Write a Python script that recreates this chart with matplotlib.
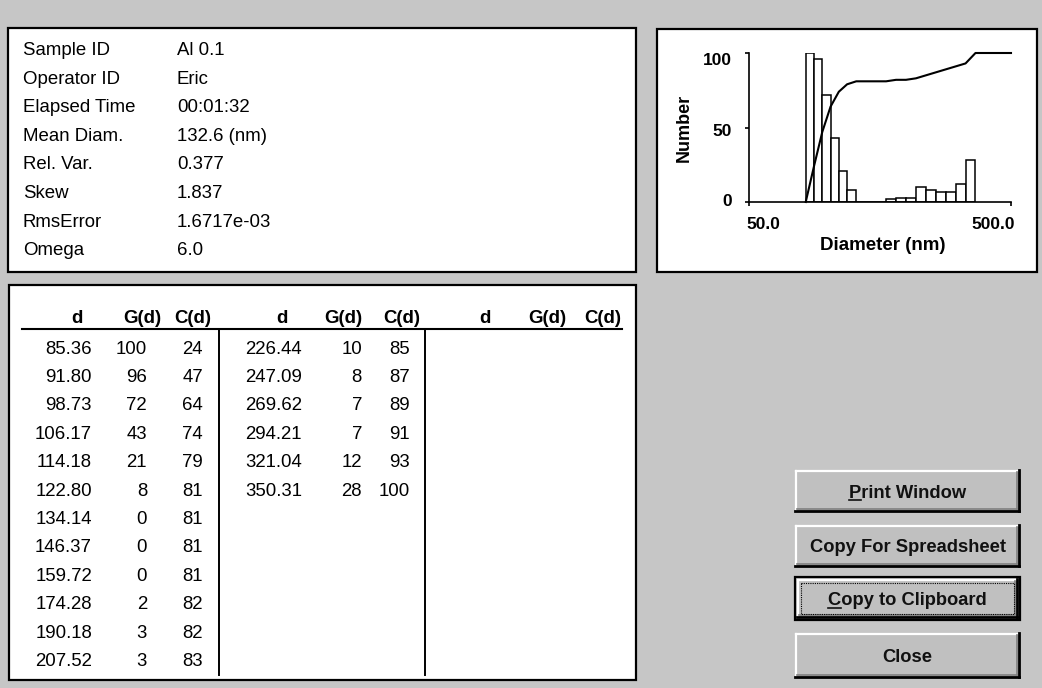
import matplotlib
matplotlib.use("Agg")
import matplotlib.pyplot as plt
import numpy as np
from matplotlib.patches import Rectangle
from matplotlib.lines import Line2D
from matplotlib.ticker import NullLocator
from matplotlib.transforms import ScaledTranslation

plt.rcParams['font.family'] = ['Liberation Sans', 'DejaVu Sans']

# ---- run summary ----
info_labels = ["Sample ID", "Operator ID", "Elapsed Time", "Mean Diam.",
               "Rel. Var.", "Skew", "RmsError", "Omega"]
info_values = ["Al 0.1", "Eric", "00:01:32", "132.6 (nm)",
               "0.377", "1.837", "1.6717e-03", "6.0"]

# ---- size distribution: diameter (nm), G(d), C(d) ----
diam = [85.36, 91.80, 98.73, 106.17, 114.18, 122.80, 134.14, 146.37, 159.72,
        174.28, 190.18, 207.52, 226.44, 247.09, 269.62, 294.21, 321.04, 350.31]
g_d = [100, 96, 72, 43, 21, 8, 0, 0, 0, 2, 3, 3, 10, 8, 7, 7, 12, 28]
c_d = [24, 47, 64, 74, 79, 81, 81, 81, 81, 82, 82, 83, 85, 87, 89, 91, 93, 100]

col_headers = ["d", "G(d)", "C(d)"]
x_ticks = [50, 500]
x_tick_labels = ["50.0", "500.0"]
y_ticks = [0, 50, 100]
y_tick_labels = ["0", "50", "100"]
button_labels = ["Print Window", "Copy For Spreadsheet", "Copy to Clipboard", "Close"]

W, H = 1042, 688
BG = "#c6c6c6"
fig = plt.figure(figsize=(W / 100, H / 100), dpi=100, facecolor=BG)

# pixel-space canvas for the dialog frame
bg = fig.add_axes([0, 0, 1, 1])
bg.set_xlim(0, W)
bg.set_ylim(H, 0)
bg.axis("off")

def panel(x0, y0, x1, y1):
    bg.add_patch(Rectangle((x0, y0), x1 - x0, y1 - y0, facecolor="white",
                           edgecolor="black", linewidth=1.6, zorder=1))

panel(8, 28, 636, 272)      # summary
panel(657, 29, 1037, 272)   # plot
panel(9, 285, 636, 680)     # table

FS = 13.4
# ---- summary text ----
for i, (lab, val) in enumerate(zip(info_labels, info_values)):
    yb = 55 + 28.6 * i
    bg.text(23, yb, lab, fontsize=FS, va="baseline", ha="left", zorder=3)
    bg.text(177, yb, val, fontsize=FS, va="baseline", ha="left", zorder=3)

# ---- table ----
header_x = [[77, 142, 193], [282, 343, 402], [485, 547, 603]]
right_x = [[92, 147, 203], [302, 362, 410], [505, 567, 620]]
for grp in header_x:
    for hx, h in zip(grp, col_headers):
        bg.text(hx, 323, h, fontsize=FS, fontweight="bold", ha="center",
                va="baseline", zorder=3)
bg.add_line(Line2D([22, 622], [329, 329], color="black", lw=1.5, zorder=3))
for dx in (219, 425):
    bg.add_line(Line2D([dx, dx], [329, 675], color="black", lw=1.4, zorder=3))

rows_per_group = 12
for k, (dv, gv, cv) in enumerate(zip(diam, g_d, c_d)):
    grp, row = divmod(k, rows_per_group)
    yb = 353.5 + 28.4 * row
    rx = right_x[grp]
    bg.text(rx[0], yb, f"{dv:.2f}", fontsize=FS, ha="right", va="baseline", zorder=3)
    bg.text(rx[1], yb, f"{gv}", fontsize=FS, ha="right", va="baseline", zorder=3)
    bg.text(rx[2], yb, f"{cv}", fontsize=FS, ha="right", va="baseline", zorder=3)

# ---- histogram + cumulative curve ----
ax = fig.add_axes([749 / W, 1 - 202 / H, 262 / W, 149 / H])
ax.set_facecolor("none")
ax.set_xscale("log")
ax.set_xlim(x_ticks[0], x_ticks[-1])
ax.set_ylim(0, 100)

d = np.array(diam)
mids = np.sqrt(d[:-1] * d[1:])
left = np.concatenate([[d[0] ** 2 / mids[0]], mids])
right = np.concatenate([mids, [d[-1] ** 2 / mids[-1]]])
ax.bar(left, g_d, width=right - left, align="edge", color="white",
       edgecolor="black", linewidth=1.1, zorder=2)

cx = np.concatenate([[left[0]], right, [ax.get_xlim()[1]]])
cy = np.concatenate([[0], c_d, [c_d[-1]]])
ax.plot(cx, cy, color="black", lw=1.5, zorder=3, clip_on=False)

for s in ("top", "right"):
    ax.spines[s].set_visible(False)
for s in ("left", "bottom"):
    ax.spines[s].set_linewidth(1.2)

tfont = dict(fontsize=12.5, fontweight="bold")
ax.set_xticks(x_ticks)
ax.set_xticklabels(x_tick_labels, **tfont)
ax.xaxis.set_minor_locator(NullLocator())
ax.set_yticks(y_ticks)
ax.set_yticklabels(y_tick_labels, **tfont)
ax.tick_params(axis="both", length=3, width=1.2, direction="out")
ax.tick_params(axis="y", pad=9.4)
ax.tick_params(axis="x", pad=8)

for lbl, dx in zip(ax.get_xticklabels(), [14, -18]):
    lbl.set_transform(lbl.get_transform() + ScaledTranslation(dx / 100, 0, fig.dpi_scale_trans))
for lbl, dy in zip(ax.get_yticklabels(), [-2, 2.5, 6]):
    lbl.set_transform(lbl.get_transform() + ScaledTranslation(0, -dy / 100, fig.dpi_scale_trans))

ax.set_ylabel("Number", fontsize=13, fontweight="bold")
ax.yaxis.set_label_coords((693 - 749) / 262, 0.5)
ax.set_xlabel("Diameter (nm)", fontsize=13.5, fontweight="bold")
ax.xaxis.set_label_coords((883 - 749) / 262, (202 - 237) / 149)

# ---- buttons ----
buttons = [(795, 470, 1020, 512), (795, 525, 1020, 567),
           (795, 577, 1020, 620), (795, 633, 1020, 678)]
underline_first = [True, False, True, False]
default_btn = 2
BFS = 13.2
btn_texts = []
for i, ((x0, y0, x1, y1), lab) in enumerate(zip(buttons, button_labels)):
    bg.add_patch(Rectangle((x0, y0), x1 - x0, y1 - y0, facecolor="#c0c0c0",
                           edgecolor="none", zorder=2))
    if i == default_btn:
        bg.add_patch(Rectangle((x0, y0), x1 - x0, y1 - y0, facecolor="none",
                               edgecolor="black", lw=1.6, zorder=4))
        ix0, iy0, ix1, iy1 = x0 + 2, y0 + 2, x1 - 2, y1 - 2
    else:
        ix0, iy0, ix1, iy1 = x0, y0, x1, y1
    # bevel: light top/left, dark bottom/right
    bg.add_line(Line2D([ix0 + 1, ix1 - 2], [iy0 + 1, iy0 + 1], color="white", lw=1.6, zorder=3))
    bg.add_line(Line2D([ix0 + 1, ix0 + 1], [iy0 + 1, iy1 - 2], color="white", lw=1.6, zorder=3))
    bg.add_line(Line2D([ix0, ix1 - 1], [iy1 - 1, iy1 - 1], color="black", lw=2.0, zorder=3))
    bg.add_line(Line2D([ix1 - 1, ix1 - 1], [iy0, iy1 - 1], color="black", lw=2.0, zorder=3))
    bg.add_line(Line2D([ix0 + 2, ix1 - 3], [iy1 - 3.5, iy1 - 3.5], color="#808080", lw=1.2, zorder=3))
    bg.add_line(Line2D([ix1 - 3.5, ix1 - 3.5], [iy0 + 2, iy1 - 3], color="#808080", lw=1.2, zorder=3))
    if i == default_btn:
        bg.add_patch(Rectangle((x0 + 6, y0 + 6), x1 - x0 - 12, y1 - y0 - 12,
                               facecolor="none", edgecolor="black", lw=0.8,
                               linestyle=(0, (1, 1)), zorder=4))
    yb = (y0 + y1) / 2 + 6.5
    t = bg.text((x0 + x1) / 2, yb, lab, fontsize=BFS, fontweight="bold",
                ha="center", va="baseline", color="#111111", zorder=5)
    btn_texts.append((t, lab, yb))

fig.canvas.draw()
rend = fig.canvas.get_renderer()
for (t, lab, yb), ul in zip(btn_texts, underline_first):
    if not ul:
        continue
    bb = t.get_window_extent(rend)
    tmp = bg.text(0, 0, lab[0], fontsize=BFS, fontweight="bold")
    wb = tmp.get_window_extent(rend)
    tmp.remove()
    ux0 = bb.x0
    ux1 = bb.x0 + wb.width
    bg.add_line(Line2D([ux0, ux1], [yb + 2.5, yb + 2.5], color="#111111", lw=1.2, zorder=5))

fig.savefig("out.png", dpi=100, facecolor=BG)
